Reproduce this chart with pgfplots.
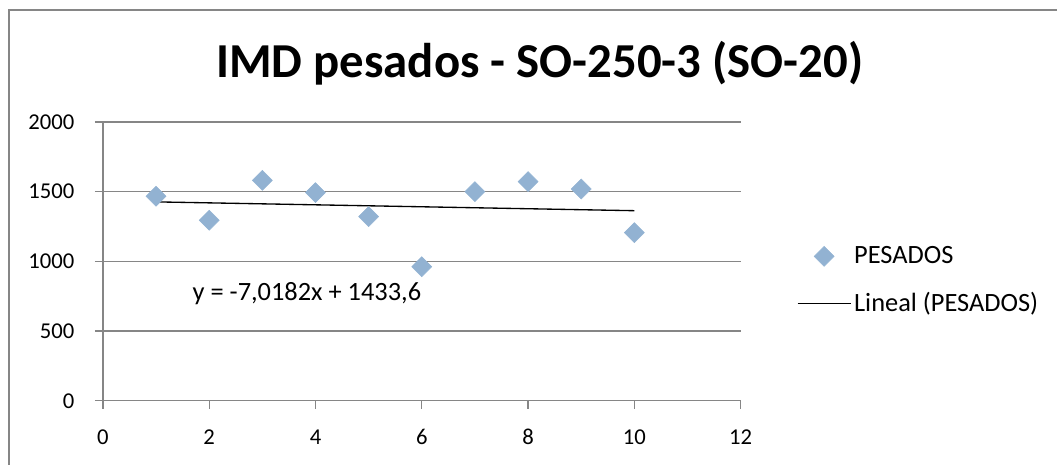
\documentclass[border=0pt]{standalone}
\usepackage{fontspec}
\setmainfont{Carlito}
\usepackage{pgfplots}
\pgfplotsset{compat=1.18}
\definecolor{mk}{RGB}{146,178,210}
\definecolor{gr}{RGB}{134,134,134}
\pgfplotsset{
  legA/.style={legend image code/.code={\draw[mark repeat=2,mark phase=2,##1] plot coordinates {(0pt,0pt) (20pt,0pt) (40pt,0pt)};}},
  legB/.style={legend image code/.code={\draw[##1] (0pt,0pt) -- (40pt,0pt);}}
}
\begin{document}
\begin{tikzpicture}[x=0.75pt,y=0.75pt]
\path (0,0) rectangle (1058,465);
\draw[gr, line width=0.9pt] (9,0) -- (9,455) -- (1058,455);
\node[anchor=base, font=\fontsize{36.6}{42}\selectfont\bfseries] at (540,387) {IMD pesados - SO-250-3 (SO-20)};
\begin{axis}[
  at={(77.25pt,48pt)}, anchor=south west, scale only axis,
  width=478.5pt, height=209.25pt,
  xmin=0, xmax=12, ymin=0, ymax=2000,
  xtick={0,2,...,12}, ytick={0,500,...,2000},
  axis lines=left, axis line style={-, gr, line width=0.9pt},
  ymajorgrids, grid style={gr, line width=0.9pt},
  tick align=outside, major tick length=6pt, tick style={gr, line width=0.9pt},
  ticklabel style={font=\fontsize{17}{20}\selectfont},
  /pgf/number format/assume math mode=true, /pgf/number format/1000 sep={},
  xticklabel style={yshift=-12pt}, yticklabel style={xshift=-12pt},
  legend style={at={(1.0878,0.432)}, anchor=west, draw=none, fill=none,
    font=\fontsize{19.8}{23}\selectfont, row sep=16pt, cells={anchor=west}, inner sep=0pt},
  clip=false
]
\addplot[only marks, mark=square*, mark size=5.3pt, mark options={rotate=45, fill=mk, draw=mk}, legA]
  coordinates {(1,1467) (2,1295) (3,1581) (4,1493) (5,1321) (6,962) (7,1500) (8,1572) (9,1519) (10,1206)};
\addlegendentry{PESADOS}
\addplot[black, line width=1pt, mark=none, legB]
  coordinates {(1,1426.58) (10,1363.42)};
\addlegendentry{Lineal (PESADOS)}
\node[anchor=base west, font=\fontsize{19.8}{23}\selectfont] at (axis cs:1.6,719) {y = -7,0182x + 1433,6};
\end{axis}
\end{tikzpicture}
\end{document}
